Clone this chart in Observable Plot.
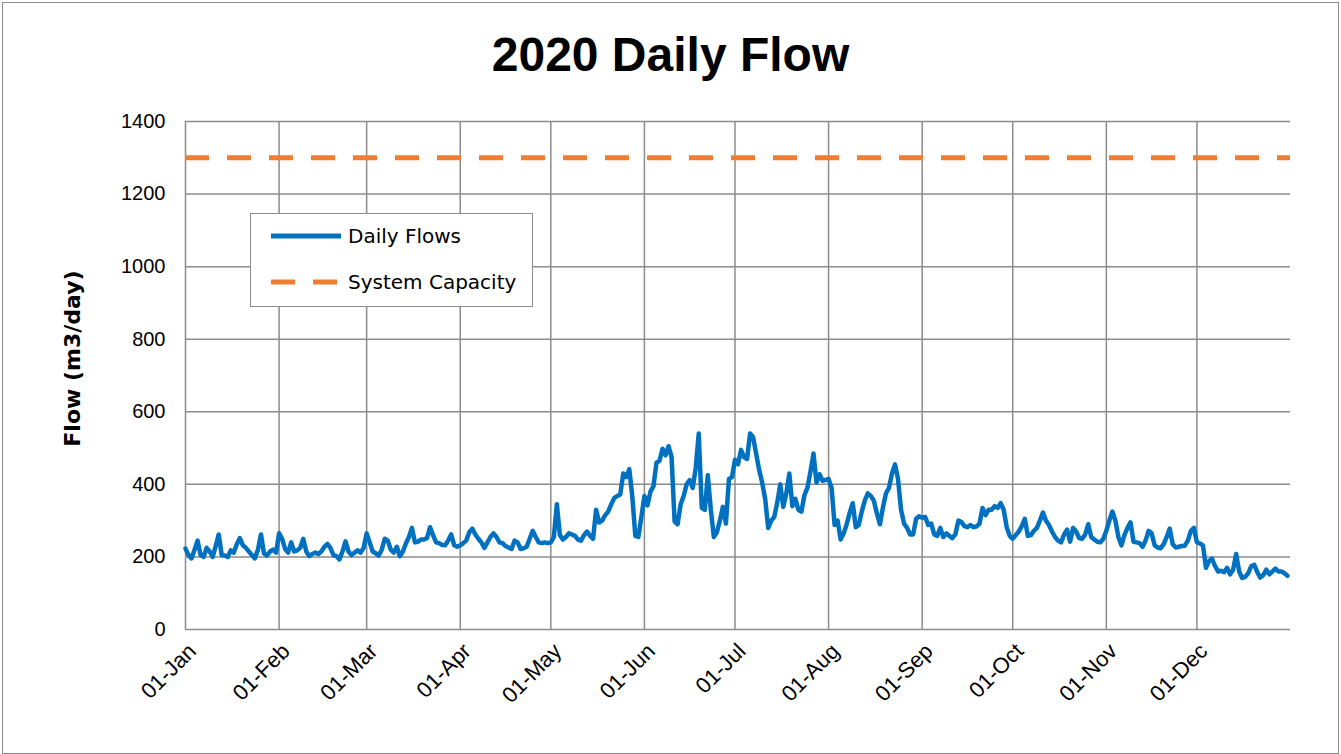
<!DOCTYPE html>
<html><head><meta charset="utf-8">
<script src="https://cdn.jsdelivr.net/npm/d3@7"></script>
<script src="https://cdn.jsdelivr.net/npm/@observablehq/plot@0.6"></script>
<style>
body{margin:0;background:#fff;}
#wrap{position:relative;width:1341px;height:754px;overflow:hidden;background:#fff;font-family:"Liberation Sans",Arial,sans-serif;}
#frame{position:absolute;left:2px;top:2px;width:1335px;height:750px;border:1px solid #8c8c8c;}
#title{position:absolute;left:0;width:1341px;top:31px;text-align:center;font-weight:bold;font-size:48px;line-height:48px;color:#000;}
#chart{position:absolute;left:0;top:0;}
#legend{position:absolute;left:250px;top:213px;width:283px;height:94px;box-sizing:border-box;border:1.5px solid #8c8c8c;background:#fff;font-family:"DejaVu Sans",sans-serif;font-size:20px;color:#000;}
#legend .row{position:absolute;left:0;height:24px;display:flex;align-items:center;}
#legend svg{margin-left:19px;margin-right:6px;}
</style></head>
<body>
<div id="wrap">
  <div id="frame"></div>
  <div id="chart"></div>
  <div id="title">2020 Daily Flow</div>
  <div id="legend">
    <div class="row" style="top:10px;"><svg width="72" height="8"><line x1="1" y1="4" x2="71" y2="4" stroke="#0070C0" stroke-width="5"/></svg><span>Daily Flows</span></div>
    <div class="row" style="top:56px;"><svg width="72" height="8"><line x1="1" y1="4" x2="71" y2="4" stroke="#ED7D31" stroke-width="5" stroke-dasharray="24,18"/></svg><span>System Capacity</span></div>
  </div>
</div>
<script>
// Tick labels / categories
const monthLabels = ["01-Jan","01-Feb","01-Mar","01-Apr","01-May","01-Jun","01-Jul","01-Aug","01-Sep","01-Oct","01-Nov","01-Dec"];
const yTicks = [0,200,400,600,800,1000,1200,1400];
const systemCapacity = 1300;
const yearStart = "2020-01-01";
const yearEnd = "2021-01-01";

// Daily flows (m3/day), 2020, read per month
const jan = [223,205,196,220,245,205,200,225,215,200,230,262,205,204,200,218,212,235,252,232,225,215,205,196,220,262,210,204,215,220,212];
const feb = [265,250,222,212,240,215,218,225,250,215,202,208,212,208,215,228,236,225,205,202,193,215,243,215,205,212,218,212,225];
const mar = [265,240,215,210,204,220,250,245,220,212,228,202,215,237,255,280,240,242,248,248,252,282,260,240,238,233,232,245,262,232,228];
const apr = [232,238,245,268,278,262,250,240,225,240,255,265,255,240,238,230,226,222,245,240,222,224,228,250,272,255,240,238,240,238];
const may = [240,255,345,260,248,255,265,262,258,248,245,260,270,258,250,330,295,300,315,325,345,362,368,372,430,420,442,365,258,255,310];
const jun = [368,342,380,395,460,465,498,480,505,475,298,290,345,368,400,412,390,445,540,335,330,425,330,255,268,300,338,292,415,420];
const jul = [468,455,495,475,470,540,530,485,440,405,360,280,300,310,350,400,338,375,430,340,360,330,325,370,390,435,485,405,428,410,412];
const aug = [415,390,288,300,248,265,290,322,348,282,288,325,355,375,368,355,320,290,336,375,390,430,455,415,330,292,280,262,262,305,312];
const sep = [308,310,288,292,262,258,280,255,265,258,252,262,300,296,285,282,288,282,284,292,335,315,330,330,340,335,348,330,282,258];
const oct = [250,260,270,285,305,258,260,272,280,300,322,300,288,270,255,245,240,262,275,242,280,270,252,250,262,290,255,248,242,240,250];
const nov = [272,300,325,300,255,232,260,280,295,242,240,238,228,245,272,265,232,226,224,235,255,278,235,226,228,230,231,245,272,280];
const dec = [240,237,232,170,188,195,175,160,162,158,170,152,165,208,160,142,145,155,175,178,158,143,150,165,152,160,168,160,160,155,148];

const flows = [].concat(jan,feb,mar,apr,may,jun,jul,aug,sep,oct,nov,dec);
const t0 = new Date(yearStart + "T00:00:00Z").getTime();
const data = flows.map((v,i)=>({date:new Date(t0 + i*86400000), flow:v}));
const monthDates = monthLabels.map((_,m)=>new Date(Date.UTC(2020,m,1)));

const chart = Plot.plot({
  width:1341, height:754,
  marginLeft:185, marginRight:51, marginTop:121, marginBottom:125,
  style:{fontFamily:"'Liberation Sans', Arial, sans-serif", fontSize:"20px", color:"#000", background:"transparent", overflow:"visible"},
  x:{type:"utc", domain:[new Date(yearStart+"T00:00:00Z"), new Date(yearEnd+"T00:00:00Z")]},
  y:{domain:[0,1400]},
  marks:[
    Plot.gridY(yTicks,{stroke:"#8c8c8c", strokeOpacity:1, strokeWidth:1.5}),
    Plot.gridX(monthDates,{stroke:"#8c8c8c", strokeOpacity:1, strokeWidth:1.5}),
    Plot.ruleY([systemCapacity],{stroke:"#ED7D31", strokeWidth:5, strokeDasharray:"24,18"}),
    Plot.lineY(data,{x:"date", y:"flow", stroke:"#0070C0", strokeWidth:4.5, strokeLinejoin:"round", strokeLinecap:"round"}),
    Plot.axisY(yTicks,{tickSize:0, tickPadding:20, label:null, fontSize:20, tickFormat:d=>String(d)}),
    Plot.axisX(monthDates,{tickSize:0, tickPadding:18, tickRotate:-45, dx:7, label:null, fontSize:22, tickFormat:d=>monthLabels[d.getUTCMonth()]}),
    Plot.text(["Flow (m3/day)"],{frameAnchor:"left", textAnchor:"middle", rotate:-90, dx:-113, dy:-17, fontWeight:"bold", fontSize:22, fontFamily:"'DejaVu Sans', sans-serif", fill:"#000"})
  ]
});
document.getElementById("chart").appendChild(chart);
</script>
</body></html>
